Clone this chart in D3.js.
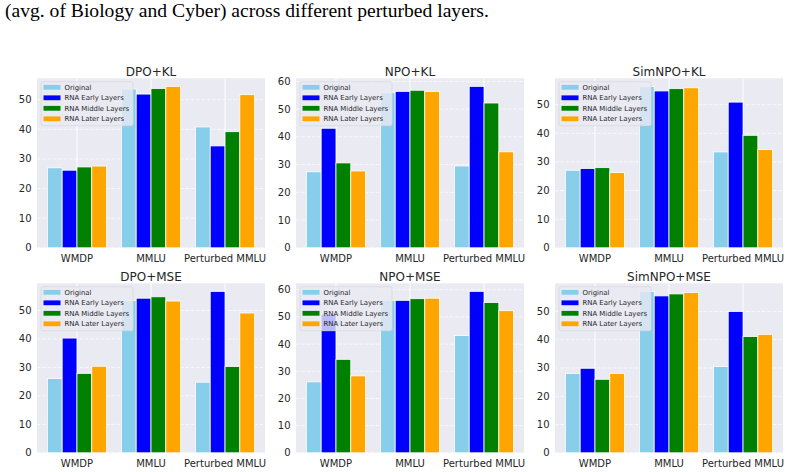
<!DOCTYPE html>
<html><head><meta charset="utf-8">
<script src="https://cdn.jsdelivr.net/npm/d3@7"></script>
<style>
html,body{margin:0;padding:0;background:#fff;}
svg{display:block;}
</style></head>
<body>
<svg id="chart" width="790" height="472"></svg>
<script>
const categories = ["WMDP", "MMLU", "Perturbed MMLU"];
const seriesNames = ["Original", "RNA Early Layers", "RNA Middle Layers", "RNA Later Layers"];
const seriesColors = ["#87CEEB", "#0000FF", "#008000", "#FFA500"];
const panelTitles = ["DPO+KL", "NPO+KL", "SimNPO+KL", "DPO+MSE", "NPO+MSE", "SimNPO+MSE"];

// each panel: [Original, Early, Middle, Later] x [WMDP, MMLU, Perturbed MMLU]
const dpoKL = [[27.0, 53.6, 40.8], [26.2, 51.9, 34.4], [27.3, 53.8, 39.2], [27.6, 54.5, 51.7]];
const npoKL = [[27.4, 55.9, 29.5], [43.1, 56.4, 58.2], [30.6, 56.8, 52.2], [27.7, 56.4, 34.6]];
const simnpoKL = [[27.1, 56.4, 33.5], [27.7, 54.8, 50.9], [28.0, 55.6, 39.3], [26.3, 55.9, 34.3]];
const dpoMSE = [[26.1, 53.5, 24.8], [40.3, 54.3, 56.7], [27.9, 54.8, 30.3], [30.4, 53.3, 49.1]];
const npoMSE = [[26.1, 56.1, 43.2], [51.0, 56.1, 59.4], [34.4, 56.7, 55.3], [28.3, 56.9, 52.3]];
const simnpoMSE = [[28.1, 57.1, 30.5], [29.9, 55.5, 50.0], [26.0, 56.2, 41.1], [28.1, 56.7, 41.9]];

const caption = "(avg. of Biology and Cyber) across different perturbed layers.";

const panels = [dpoKL, npoKL, simnpoKL, dpoMSE, npoMSE, simnpoMSE];

const svg = d3.select("#chart");
const font = "'DejaVu Sans', sans-serif";
const textColor = "#262626";

svg.append("text")
  .attr("x", 5).attr("y", 17)
  .attr("font-family", "'Liberation Serif', 'Times New Roman', serif")
  .attr("font-size", 19.6)
  .attr("fill", "#000")
  .text(caption);

const colLefts = [37, 296, 555];
const rowTops = [78.3, 283.3];
const pw = 228, ph = 169.5;

panels.forEach((data, p) => {
  const left = colLefts[p % 3], top = rowTops[Math.floor(p / 3)];
  const g = svg.append("g").attr("transform", `translate(${left},${top})`);
  const ymax = d3.max(data.flat()) * 1.05;
  const x = d3.scaleLinear().domain([-0.54, 2.54]).range([0, pw]);
  const y = d3.scaleLinear().domain([0, ymax]).range([ph, 0]);

  g.append("rect").attr("width", pw).attr("height", ph).attr("fill", "#EAEAF2");

  const yt = y.ticks(6).filter(t => t % 10 === 0);
  g.selectAll(".hg").data(yt).enter().append("line")
    .attr("x1", 0).attr("x2", pw)
    .attr("y1", d => y(d)).attr("y2", d => y(d))
    .attr("stroke", "#fff").attr("stroke-width", 1)
    .attr("stroke-dasharray", "3.7,1.6").attr("opacity", 0.7);
  g.selectAll(".vg").data(categories).enter().append("line")
    .attr("x1", (d, i) => x(i)).attr("x2", (d, i) => x(i))
    .attr("y1", 0).attr("y2", ph)
    .attr("stroke", "#fff").attr("stroke-width", 1);

  data.forEach((vals, s) => {
    g.selectAll(".b" + s).data(vals).enter().append("rect")
      .attr("x", (d, i) => x(i + (s - 1.5) * 0.2 - 0.1))
      .attr("width", x(0.2) - x(0))
      .attr("y", d => y(d))
      .attr("height", d => y(0) - y(d))
      .attr("fill", seriesColors[s])
      .attr("stroke", "#fff").attr("stroke-width", 0.8);
  });

  g.selectAll(".yl").data(yt).enter().append("text")
    .attr("x", -5.5).attr("y", d => y(d)).attr("dy", "0.35em")
    .attr("text-anchor", "end")
    .attr("font-family", font).attr("font-size", 10).attr("fill", textColor)
    .text(d => d);

  g.selectAll(".xl").data(categories).enter().append("text")
    .attr("x", (d, i) => x(i)).attr("y", ph + 13.8)
    .attr("text-anchor", "middle")
    .attr("font-family", font).attr("font-size", 10).attr("fill", textColor)
    .text(d => d);

  g.append("text").attr("x", pw / 2).attr("y", -2.6)
    .attr("text-anchor", "middle")
    .attr("font-family", font).attr("font-size", 12).attr("fill", textColor)
    .text(panelTitles[p]);

  const lg = g.append("g").attr("transform", "translate(4,3.4)");
  lg.append("rect").attr("width", 92).attr("height", 44).attr("rx", 2)
    .attr("fill", "#EAEAF2").attr("fill-opacity", 0.8)
    .attr("stroke", "#d8d8e0").attr("stroke-width", 0.8);
  seriesNames.forEach((name, s) => {
    const cy = 5.6 + s * 10.5;
    lg.append("rect").attr("x", 2.5).attr("y", cy - 2.4).attr("width", 17).attr("height", 4.8)
      .attr("fill", seriesColors[s]);
    lg.append("text").attr("x", 23.5).attr("y", cy).attr("dy", "0.35em")
      .attr("font-family", font).attr("font-size", 6.9).attr("fill", textColor)
      .text(name);
  });
});
</script>
</body></html>
